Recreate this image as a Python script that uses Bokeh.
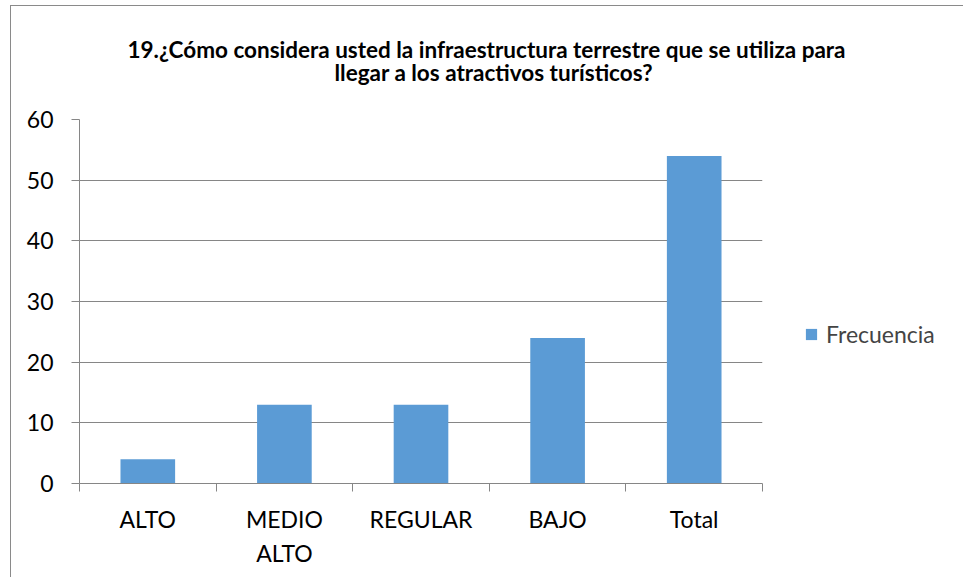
from bokeh.plotting import figure
from bokeh.models import ColumnDataSource, FixedTicker, Range1d, Legend, LegendItem, Title
from bokeh.embed import file_html
from bokeh.resources import INLINE

categories = ["ALTO", "MEDIO\nALTO", "REGULAR", "BAJO", "Total"]
frecuencia = [4, 13, 13, 24, 54]
y_ticks = [0, 10, 20, 30, 40, 50, 60]
title_lines = ["19.¿Cómo considera usted la infraestructura terrestre que se utiliza para",
               "llegar a los atractivos turísticos?"]
series_name = "Frecuencia"

FONT = "Lato"
GRAY = "#868686"
BAR = "#5B9BD5"

centers = [i + 0.5 for i in range(len(categories))]
src = ColumnDataSource(dict(x=centers, top=frecuencia))

p = figure(frame_width=683, frame_height=364, output_backend="svg", toolbar_location=None,
           x_range=Range1d(0, len(categories)), y_range=Range1d(0, 60),
           min_border_left=68, min_border_right=201, min_border_top=113, min_border_bottom=94)
p.styles = {"margin-left": "10px", "margin-top": "5px",
            "border-left": "1px solid #8a8a8a", "border-top": "1px solid #8a8a8a"}
p.outline_line_color = None
p.background_fill_color = "white"
p.border_fill_color = "white"

r = p.vbar(x="x", top="top", width=0.4, source=src, fill_color=BAR, line_color=None)

# x axis
p.xaxis.ticker = FixedTicker(ticks=centers, minor_ticks=list(range(len(categories) + 1)))
p.xaxis.major_label_overrides = {c: lab for c, lab in zip(centers, categories)}
p.xaxis.major_tick_line_color = None
p.xaxis.minor_tick_line_color = GRAY
p.xaxis.minor_tick_in = 0
p.xaxis.minor_tick_out = 8
p.xaxis.axis_line_color = GRAY
p.xaxis.major_label_text_font = FONT
p.xaxis.major_label_text_font_size = "23px"
p.xaxis.major_label_text_color = "#000000"
p.xaxis.major_label_standoff = 13
p.xaxis.major_label_text_line_height = 1.22
p.xgrid.grid_line_color = None

# y axis
p.yaxis.ticker = FixedTicker(ticks=y_ticks)
p.yaxis.minor_tick_line_color = None
p.yaxis.major_tick_in = 0
p.yaxis.major_tick_out = 8
p.yaxis.major_tick_line_color = GRAY
p.yaxis.axis_line_color = GRAY
p.yaxis.major_label_text_font = FONT
p.yaxis.major_label_text_font_size = "23px"
p.yaxis.major_label_text_color = "#000000"
p.yaxis.major_label_standoff = 18
p.ygrid.grid_line_color = GRAY
p.ygrid.grid_line_width = 1

# title (line 2 added first: closest to the frame)
for line, off, sb in [(title_lines[1], 255, 67), (title_lines[0], 48, -79)]:
    p.add_layout(Title(text=line, align="left", offset=off, standoff=sb,
                       text_font=FONT, text_font_style="bold", text_font_size="22.5px",
                       text_color="#000000"), "above")

legend = Legend(items=[LegendItem(label=series_name, renderers=[r])],
                location=(42, 135), glyph_width=14, glyph_height=14,
                label_text_font=FONT, label_text_font_size="23px", label_standoff=8,
                padding=0, margin=0, border_line_color=None, background_fill_alpha=0)
p.add_layout(legend, "right")

open("out.html", "w").write(file_html(p, INLINE))
